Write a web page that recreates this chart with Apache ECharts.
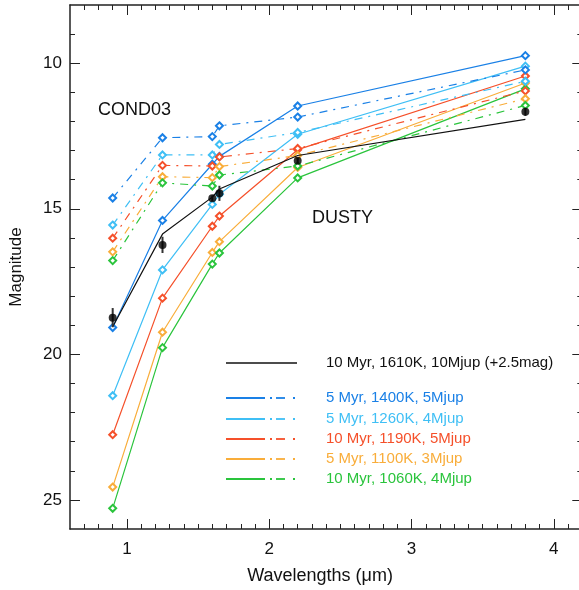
<!DOCTYPE html>
<html>
<head>
<meta charset="utf-8">
<script src="https://cdn.jsdelivr.net/npm/echarts@6/dist/echarts.min.js"></script>
<style>
  html, body { margin: 0; padding: 0; background: #fff; }
  #chart { width: 579px; height: 590px; }
</style>
</head>
<body>
<div id="chart"></div>
<script>
// Photometric bands (micron)
const wavelengths = [0.9, 1.25, 1.6, 1.65, 2.2, 3.8];

// DUSTY model magnitudes (solid lines)
const dusty1400 = [19.08, 15.40, 13.47, 13.20, 11.47, 9.74];
const dusty1260 = [21.42, 17.10, 14.85, 14.50, 12.44, 10.10];
const dusty1190 = [22.76, 18.07, 15.60, 15.25, 12.97, 10.44];
const dusty1100 = [24.56, 19.24, 16.50, 16.13, 13.58, 10.68];
const dusty1060 = [25.29, 19.77, 16.90, 16.52, 13.94, 10.88];

// COND03 model magnitudes (dash-dot lines)
const cond1400 = [14.63, 12.56, 12.52, 12.15, 11.85, 10.23];
const cond1260 = [15.56, 13.15, 13.15, 12.79, 12.38, 10.62];
const cond1190 = [16.01, 13.51, 13.53, 13.22, 12.93, 10.95];
const cond1100 = [16.48, 13.90, 13.93, 13.55, 13.17, 11.22];
const cond1060 = [16.78, 14.11, 14.22, 13.84, 13.53, 11.45];

// Hotter reference model, shifted by +2.5 mag
const model1610 = [19.05, 15.87, 14.60, 14.32, 13.17, 11.93];

// Measured photometry with uncertainties
const obsMag = [18.74, 16.24, 14.64, 14.47, 13.35, 11.67];
const obsErr = [0.33, 0.28, 0.10, 0.26, 0.10, 0.14];

// Legend entries
const legendLabels = [
  '5 Myr, 1400K, 5Mjup',
  '5 Myr, 1260K, 4Mjup',
  '10 Myr, 1190K, 5Mjup',
  '5 Myr, 1100K, 3Mjup',
  '10 Myr, 1060K, 4Mjup'
];
const refLabel = '10 Myr, 1610K, 10Mjup (+2.5mag)';

// Axis ticks
const xMajorTicks = [1, 2, 3, 4];
const yMajorTicks = [10, 15, 20, 25];
const xRange = [0.6, 4.2];
const yRange = [8, 26];

const colors = ['#1a80e6', '#3fbff5', '#f5502a', '#f9ad3a', '#2ac43c'];
const dustySets = [dusty1400, dusty1260, dusty1190, dusty1100, dusty1060];
const condSets = [cond1400, cond1260, cond1190, cond1100, cond1060];

const xMinorTicks = [];
for (let i = 7; i <= 41; i++) { if (i % 10 !== 0) xMinorTicks.push(i / 10); }
const yMinorTicks = [];
for (let v = 9; v <= 25; v++) { if (v % 5 !== 0) yMinorTicks.push(v); }

const FONT = 'Liberation Sans';
const TXT = '#111';
const dashDot = [8, 6, 2, 6];

function pairs(ys) { return wavelengths.map((w, i) => [w, ys[i]]); }

function xAxisDef(pos, ticks, len, showLine, showLabel) {
  return {
    type: 'value', position: pos, min: xRange[0], max: xRange[1],
    axisLine: { show: showLine, onZero: false, lineStyle: { color: '#222', width: 1.5 } },
    axisTick: { show: true, inside: true, length: len, customValues: ticks, lineStyle: { color: '#222', width: 1 } },
    axisLabel: { show: showLabel, customValues: ticks, margin: 12, fontSize: 17, color: TXT, fontFamily: FONT },
    splitLine: { show: false }
  };
}
function yAxisDef(pos, ticks, len, showLine, showLabel) {
  return {
    type: 'value', position: pos, min: yRange[0], max: yRange[1], inverse: true,
    axisLine: { show: showLine, onZero: false, lineStyle: { color: '#222', width: 1.5 } },
    axisTick: { show: true, inside: true, length: len, customValues: ticks, lineStyle: { color: '#222', width: 1 } },
    axisLabel: { show: showLabel, customValues: ticks, margin: 8, fontSize: 17, color: TXT, fontFamily: FONT },
    splitLine: { show: false }
  };
}

const series = [];
dustySets.forEach((ys, k) => {
  series.push({
    type: 'line', data: pairs(ys), symbol: 'emptyDiamond', symbolSize: 7,
    lineStyle: { color: colors[k], width: 1.2 }, itemStyle: { color: colors[k], borderWidth: 1 },
    z: 3, animation: false
  });
});
condSets.forEach((ys, k) => {
  series.push({
    type: 'line', data: pairs(ys), symbol: 'emptyDiamond', symbolSize: 7,
    lineStyle: { color: colors[k], width: 1.2, type: dashDot }, itemStyle: { color: colors[k], borderWidth: 1 },
    z: 3, animation: false
  });
});
series.push({
  type: 'line', data: pairs(model1610), symbol: 'none',
  lineStyle: { color: '#111', width: 1.2 }, z: 4, animation: false
});
series.push({
  type: 'custom', z: 5, animation: false,
  data: wavelengths.map((w, i) => [w, obsMag[i], obsErr[i]]),
  encode: { x: 0, y: 1 },
  renderItem: function (params, api) {
    const x = api.value(0), y = api.value(1), e = api.value(2);
    const p1 = api.coord([x, y - e]);
    const p2 = api.coord([x, y + e]);
    return { type: 'line', shape: { x1: p1[0], y1: p1[1], x2: p2[0], y2: p2[1] },
             style: { stroke: '#333', lineWidth: 2 } };
  }
});
series.push({
  type: 'scatter', data: pairs(obsMag), symbol: 'circle', symbolSize: 8,
  itemStyle: { color: '#000' }, z: 6, animation: false
});

// Legend drawn as graphic elements: solid part for DUSTY, dash-dot part for COND03
const graphics = [];
const legX0 = 226, legTextX = 326;
graphics.push({ type: 'line', shape: { x1: legX0, y1: 363, x2: 297, y2: 363 }, style: { stroke: '#111', lineWidth: 1.5 } });
graphics.push({ type: 'text', x: legTextX, y: 363, style: { text: refLabel, fill: TXT, font: '15px ' + FONT, verticalAlign: 'middle' } });
const rowY = [398, 419, 439, 459, 479];
legendLabels.forEach((lab, k) => {
  const y = rowY[k];
  const st = { stroke: colors[k], lineWidth: 1.8 };
  graphics.push({ type: 'line', shape: { x1: 226, y1: y, x2: 265, y2: y }, style: st });
  graphics.push({ type: 'line', shape: { x1: 270, y1: y, x2: 272, y2: y }, style: st });
  graphics.push({ type: 'line', shape: { x1: 276, y1: y, x2: 285, y2: y }, style: st });
  graphics.push({ type: 'line', shape: { x1: 293, y1: y, x2: 295, y2: y }, style: st });
  graphics.push({ type: 'text', x: legTextX, y: y, style: { text: lab, fill: colors[k], font: '15px ' + FONT, verticalAlign: 'middle' } });
});
graphics.push({ type: 'text', x: 98, y: 110, style: { text: 'COND03', fill: TXT, font: '18px ' + FONT, verticalAlign: 'middle' } });
graphics.push({ type: 'text', x: 312, y: 218, style: { text: 'DUSTY', fill: TXT, font: '18px ' + FONT, verticalAlign: 'middle' } });
graphics.push({ type: 'text', x: 320, y: 576, style: { text: 'Wavelengths (\u03bcm)', fill: TXT, font: '18px ' + FONT, align: 'center', verticalAlign: 'middle' } });

const chart = echarts.init(document.getElementById('chart'), null, { renderer: 'canvas' });
chart.setOption({
  animation: false,
  backgroundColor: '#fff',
  grid: { left: 70, right: -3.3, top: 5, bottom: 61, outerBoundsMode: 'none' },
  xAxis: [
    xAxisDef('bottom', xMajorTicks, 10, true, true),
    xAxisDef('bottom', xMinorTicks, 5, false, false),
    xAxisDef('top', xMajorTicks, 10, true, false),
    xAxisDef('top', xMinorTicks, 5, false, false)
  ],
  yAxis: [
    Object.assign(yAxisDef('left', yMajorTicks, 10, true, true), {
      name: 'Magnitude', nameLocation: 'middle', nameGap: 45,
      nameTextStyle: { fontSize: 17, color: TXT, fontFamily: FONT }
    }),
    yAxisDef('left', yMinorTicks, 5, false, false),
    yAxisDef('right', yMajorTicks, 10, true, false),
    yAxisDef('right', yMinorTicks, 5, false, false)
  ],
  series: series,
  graphic: graphics
});
</script>
</body>
</html>
